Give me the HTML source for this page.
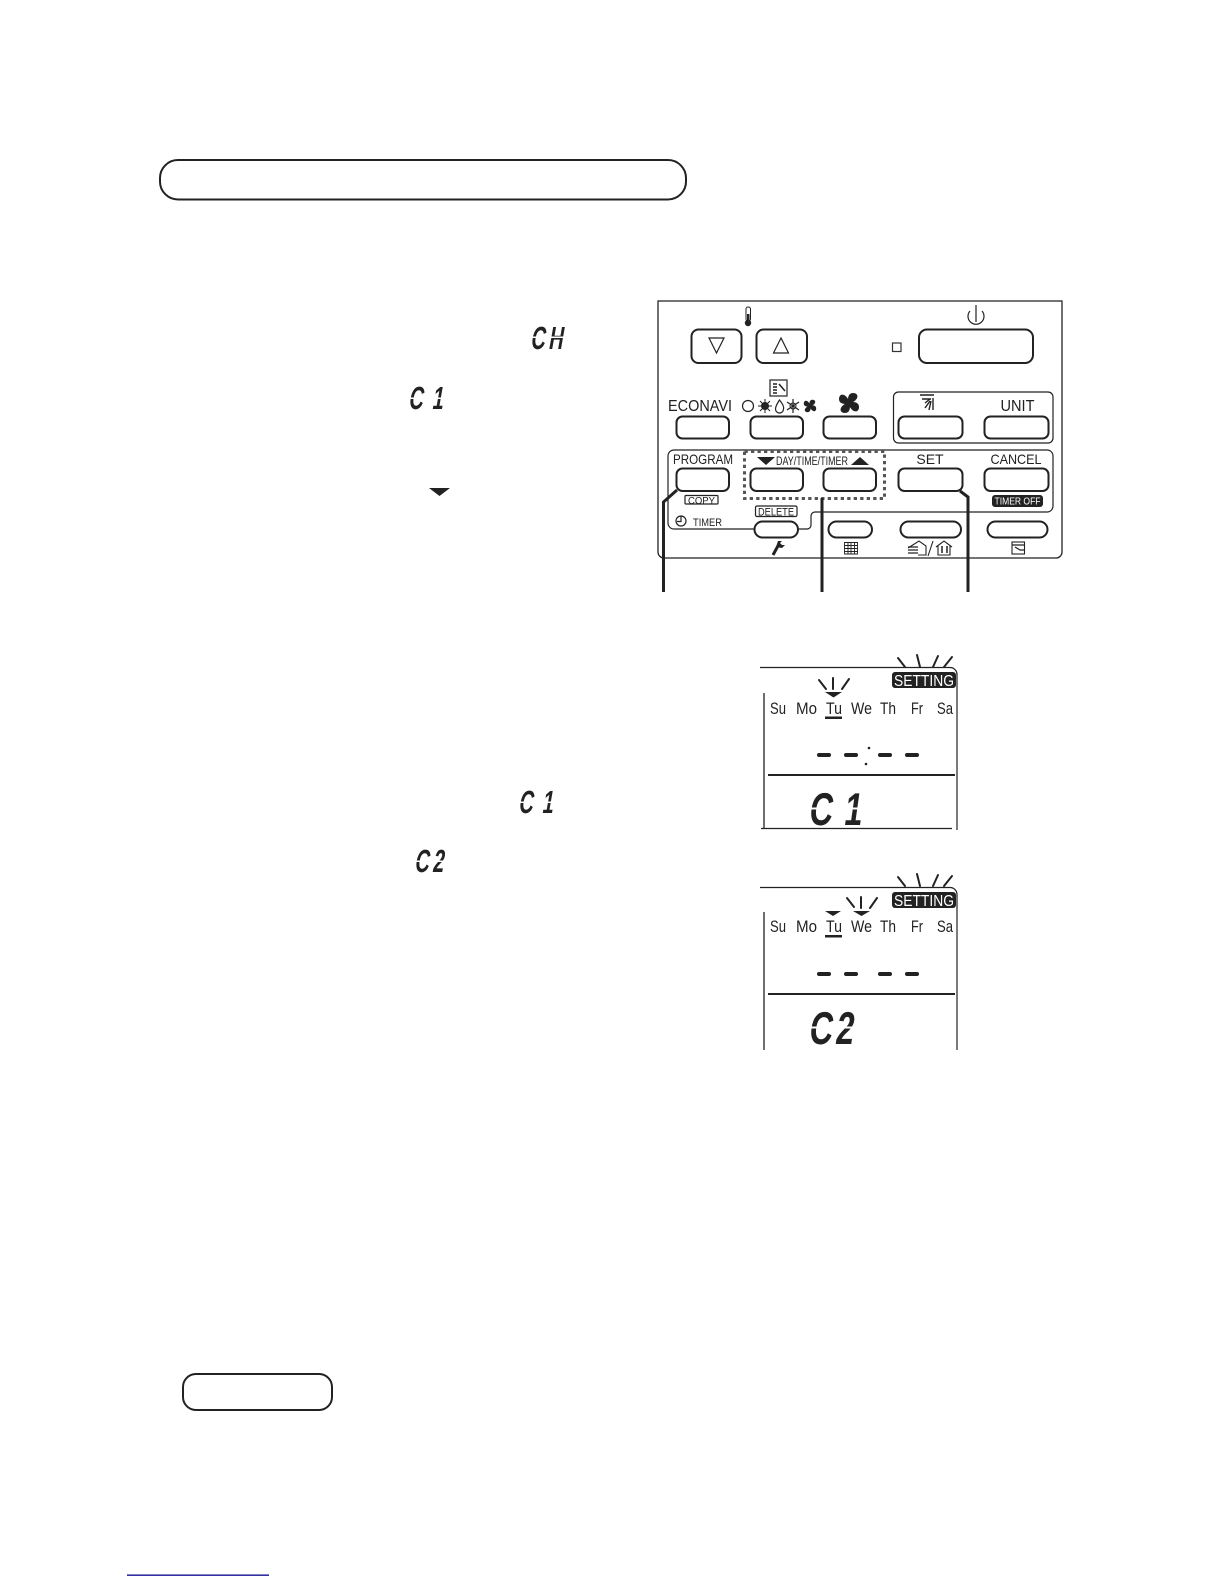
<!DOCTYPE html>
<html>
<head>
<meta charset="utf-8">
<style>
html,body{margin:0;padding:0;background:#fff}
svg{display:block}
text{font-family:"Liberation Sans",sans-serif;fill:#222}
.b{fill:none;stroke:#222;stroke-width:2}
.t{fill:none;stroke:#222;stroke-width:1.2}
.l{stroke:#222;stroke-width:3;fill:none}
.r{stroke:#222;stroke-width:2;fill:none;stroke-linecap:round}
.k{fill:#222;stroke:none}
.n{font-size:14px}
.d{font-size:17px}
.lcd{font-family:"Liberation Sans",sans-serif;fill:#222;font-weight:bold}
.cut{fill:#fff;stroke:none}
</style>
</head>
<body>
<svg width="1224" height="1584" viewBox="0 0 1224 1584" xmlns="http://www.w3.org/2000/svg">
<rect width="1224" height="1584" fill="#fff"/>

<!-- banners -->
<rect x="160" y="160" width="526" height="39.500" rx="18" class="b"/>
<rect x="183" y="1374" width="149" height="36" rx="13" class="b"/>

<!-- inline symbols in text column -->
<text class="lcd" font-size="32" transform="translate(530,349) skewX(-10) scale(.62,1)" x="0 29">CH</text>
<rect class="cut" x="528" y="336.500" width="40" height="1.500"/>
<text class="lcd" font-size="32" transform="translate(408,409) skewX(-10) scale(.62,1)" x="0 38">C1</text>
<rect class="cut" x="406" y="397.500" width="40" height="1.500"/>
<polygon class="k" points="429,488 450,488 439.500,496"/>
<text class="lcd" font-size="32" transform="translate(518,813) skewX(-10) scale(.62,1)" x="0 38">C1</text>
<rect class="cut" x="516" y="801.500" width="40" height="1.500"/>
<text class="lcd" font-size="32" transform="translate(414,872) skewX(-10) scale(.62,1)" x="0 29">C2</text>
<rect class="cut" x="412" y="860.500" width="40" height="1.500"/>

<!-- control panel -->
<path d="M658 301H1062V552a6 6 0 0 1-6 6H664a6 6 0 0 1-6-6Z" fill="none" stroke="#222" stroke-width="1.300"/>

<!-- thermometer -->
<rect x="746" y="307" width="4.500" height="14" rx="2" fill="none" stroke="#222" stroke-width="1"/>
<circle cx="748" cy="323" r="3.200" class="k"/>
<rect x="747" y="314" width="2.500" height="8" class="k"/>

<!-- row 1 buttons -->
<rect x="691.500" y="329.500" width="50" height="33.500" rx="7" class="b"/>
<rect x="756.500" y="329.500" width="50.500" height="33.500" rx="7" class="b"/>
<polygon points="709,338 724,338 716.500,353" fill="none" stroke="#222" stroke-width="1.200"/>
<polygon points="781,338 773.500,353 788.500,353" fill="none" stroke="#222" stroke-width="1.200"/>
<rect x="892.500" y="343" width="8.500" height="8.500" fill="none" stroke="#333" stroke-width="1.200"/>
<rect x="919" y="329.500" width="114" height="33.500" rx="8" class="b"/>
<path d="M970 311a8 8 0 1 0 12 0" class="t"/>
<path d="M976 305V322" class="t"/>

<!-- row 2 -->
<text x="668" y="411" font-size="15.500" textLength="64" lengthAdjust="spacingAndGlyphs">ECONAVI</text>
<rect x="770" y="380" width="17" height="16" fill="#fff" stroke="#222" stroke-width="1.200"/>
<path d="M773 384h4M773 387h4M773 390h4M773 393h4M779 384l6 7" stroke="#222" stroke-width="1.500" fill="none"/>
<circle cx="748" cy="406" r="5.500" class="t"/>
<circle cx="765" cy="406" r="4" class="k"/>
<path d="M758 406h14M765 399v14M760 401l10 10M770 401l-10 10" stroke="#222" stroke-width="1"/>
<path d="M779.500 400q5 6 4 9a4 4 0 0 1-8 0q0-3 4-9Z" class="t"/>
<path d="M793 399v14M787 402l12 8M799 402l-12 8" stroke="#222" stroke-width="1.200"/>
<circle cx="793" cy="406" r="3" fill="none" stroke="#222"/>
<!-- small fan -->
<g transform="translate(810,406) scale(.62)" fill="#222"><path d="M0 1C-2-4 -1-10 4-10C10-10 11-3 0 1Z"/><path transform="rotate(90)" d="M0 1C-2-4 -1-10 4-10C10-10 11-3 0 1Z"/><path transform="rotate(180)" d="M0 1C-2-4 -1-10 4-10C10-10 11-3 0 1Z"/><path transform="rotate(270)" d="M0 1C-2-4 -1-10 4-10C10-10 11-3 0 1Z"/></g>
<!-- big fan -->
<g transform="translate(849,403)" fill="#222"><path d="M0 1C-2-4 -1-10 4-10C10-10 11-3 0 1Z"/><path transform="rotate(90)" d="M0 1C-2-4 -1-10 4-10C10-10 11-3 0 1Z"/><path transform="rotate(180)" d="M0 1C-2-4 -1-10 4-10C10-10 11-3 0 1Z"/><path transform="rotate(270)" d="M0 1C-2-4 -1-10 4-10C10-10 11-3 0 1Z"/></g>
<!-- louver icon -->
<path d="M920 395h14M922 399h9M925 403l5-4M929 410l2-9M933 410v-12M925 408l5-7" stroke="#222" stroke-width="1.400" fill="none"/>

<rect x="893.500" y="392" width="159.500" height="51" rx="5" fill="none" stroke="#222" stroke-width="1.200"/>
<text x="1000.500" y="411" font-size="15.500" textLength="34" lengthAdjust="spacingAndGlyphs">UNIT</text>
<rect x="676.500" y="416.500" width="52.500" height="22" rx="6" class="b"/>
<rect x="750.500" y="416.500" width="52.500" height="22" rx="6" class="b"/>
<rect x="823.500" y="416.500" width="52.500" height="22" rx="6" class="b"/>
<rect x="898.500" y="416.500" width="64" height="22" rx="6" class="b"/>
<rect x="984.500" y="416.500" width="64" height="22" rx="6" class="b"/>

<!-- timer group -->
<path d="M674 450H1047a6 6 0 0 1 6 6V506a6 6 0 0 1-6 6H815a4 4 0 0 0-4 4V525a4 4 0 0 1-4 4H674a6 6 0 0 1-6-6V456a6 6 0 0 1 6-6Z" fill="none" stroke="#222" stroke-width="1.200"/>
<rect x="744.500" y="451.500" width="140" height="47" fill="none" stroke="#555" stroke-width="3" stroke-dasharray="3.300 3.200"/>

<text x="673" y="464" class="n" textLength="60" lengthAdjust="spacingAndGlyphs">PROGRAM</text>
<polygon class="k" points="757,457 775,457 766,465"/>
<text x="776" y="465" font-size="12" textLength="72" lengthAdjust="spacingAndGlyphs">DAY/TIME/TIMER</text>
<polygon class="k" points="851,465 869,465 860,457"/>
<text x="930" y="464" class="n" text-anchor="middle">SET</text>
<text x="1016" y="464" class="n" text-anchor="middle" textLength="51" lengthAdjust="spacingAndGlyphs">CANCEL</text>

<rect x="676.500" y="468.500" width="52.500" height="22.500" rx="6" class="b"/>
<rect x="750.500" y="468.500" width="52.500" height="22.500" rx="6" class="b"/>
<rect x="823.500" y="468.500" width="52.500" height="22.500" rx="6" class="b"/>
<rect x="898.500" y="468.500" width="64" height="22.500" rx="6" class="b"/>
<rect x="984.500" y="468.500" width="64" height="22.500" rx="6" class="b"/>

<rect x="685" y="495.500" width="33" height="8.500" rx="1" fill="#fff" stroke="#222" stroke-width="1.200"/>
<text x="701.500" y="504" font-size="10" text-anchor="middle" textLength="27" lengthAdjust="spacingAndGlyphs">COPY</text>
<rect x="992" y="495" width="51" height="12" rx="3" fill="#222"/>
<text x="1017.500" y="504.500" font-size="10" text-anchor="middle" style="fill:#fff" textLength="46" lengthAdjust="spacingAndGlyphs">TIMER OFF</text>
<rect x="755.500" y="506" width="41.500" height="10.500" rx="1.500" fill="#fff" stroke="#222" stroke-width="1.200"/>
<text x="776" y="515.500" font-size="11" text-anchor="middle" textLength="36" lengthAdjust="spacingAndGlyphs">DELETE</text>
<circle cx="681" cy="521" r="5" class="t"/>
<path d="M681 516.500V521.500H677" class="t"/>
<text x="693" y="526" font-size="11" textLength="29" lengthAdjust="spacingAndGlyphs">TIMER</text>

<!-- bottom row buttons -->
<rect x="754.500" y="521.500" width="43.500" height="16" rx="8" fill="#fff" stroke="#222" stroke-width="2"/>
<rect x="828.500" y="521.500" width="43.500" height="16" rx="8" class="b"/>
<rect x="900.500" y="521.500" width="60.500" height="16" rx="8" class="b"/>
<rect x="987.500" y="521.500" width="60" height="16" rx="8" class="b"/>

<!-- wrench -->
<path d="M773 555L779 544" stroke="#222" stroke-width="3"/>
<path d="M776 547l2-6h4l-2 2 2 2h3l-3 3Z" class="k"/>
<!-- grid -->
<path d="M844.500 542.500h13v11.500h-13ZM844.500 545.500h13M844.500 548.500h13M844.500 551.500h13M848 542.500v11.500M851 542.500v11.500M854.500 542.500v11.500" fill="none" stroke="#222" stroke-width=".9"/>
<!-- house icons -->
<path d="M908 548l11-7 7 5v9h-8" fill="none" stroke="#222" stroke-width="1.100"/>
<path d="M908 547h10M908 550h10M908 553h10" stroke="#222" stroke-width="1.300"/>
<path d="M928 556l5-15" stroke="#222" stroke-width="1.100"/>
<path d="M936 547l8-6 8 6M938 546v9h12v-9" fill="none" stroke="#222" stroke-width="1.100"/>
<path d="M942 546v7M947 546v7" stroke="#222" stroke-width="1.500"/>
<!-- window icon -->
<rect x="1012" y="542" width="12.500" height="12" fill="#fff" stroke="#222" stroke-width="1.100"/>
<path d="M1012 545h12.500M1015 547l5 3h4" fill="none" stroke="#222" stroke-width="1.200"/>

<!-- leaders -->
<path class="l" d="M677 490L663.500 502V592"/>
<path class="l" d="M822 498V592"/>
<path class="l" d="M960 491L968 497V592"/>

<!-- display 1 -->
<g>
<path d="M760 667.500H950a7 7 0 0 1 7 7V830" fill="none" stroke="#222" stroke-width="1.200"/>
<path d="M764 693V828M761 828.500H952" fill="none" stroke="#222" stroke-width="1.300"/>
<path d="M898 658l7 9M917 655l3 12M938 656l-5 11M952 657l-8 10" class="r"/>
<rect x="892" y="672" width="64" height="16" rx="3" fill="#222"/>
<text x="894" y="686" font-size="16" style="fill:#fff" textLength="60" lengthAdjust="spacingAndGlyphs">SETTING</text>
<path d="M819 680l7 9M833 678v11M849 679l-7 10" class="r"/>
<polygon class="k" points="825,692 842,692 833.500,697.500"/>
<text x="770" y="714" class="d" textLength="16" lengthAdjust="spacingAndGlyphs">Su</text>
<text x="796" y="714" class="d" textLength="21" lengthAdjust="spacingAndGlyphs">Mo</text>
<text x="826" y="714" class="d" textLength="16" lengthAdjust="spacingAndGlyphs">Tu</text>
<text x="851" y="714" class="d" textLength="21" lengthAdjust="spacingAndGlyphs">We</text>
<text x="880" y="714" class="d" textLength="16" lengthAdjust="spacingAndGlyphs">Th</text>
<text x="911" y="714" class="d" textLength="12" lengthAdjust="spacingAndGlyphs">Fr</text>
<text x="937" y="714" class="d" textLength="16" lengthAdjust="spacingAndGlyphs">Sa</text>
<rect x="825" y="716.500" width="17" height="2.500" class="k"/>
<g class="k"><rect x="817" y="753" width="14" height="4" rx="2"/><rect x="844" y="753" width="14" height="4" rx="2"/><rect x="878" y="753" width="14" height="4" rx="2"/><rect x="905" y="753" width="14" height="4" rx="2"/></g>
<circle cx="869" cy="748" r="1.300" class="k"/>
<circle cx="866" cy="764" r="1.300" class="k"/>
<rect x="768" y="774" width="187" height="2" class="k"/>
<text class="lcd" font-size="46" transform="translate(808,825) skewX(-8) scale(.7,1)" x="0 50">C1</text>
<rect class="cut" x="806" y="807.500" width="62" height="2"/>
</g>

<!-- display 2 -->
<g>
<path d="M760 887.500H950a7 7 0 0 1 7 7V1050" fill="none" stroke="#222" stroke-width="1.200"/>
<path d="M764 912V1050" fill="none" stroke="#222" stroke-width="1.300"/>
<path d="M898 877l7 9M917 874l3 12M938 875l-5 11M952 876l-8 10" class="r"/>
<rect x="892" y="892" width="64" height="16" rx="3" fill="#222"/>
<text x="894" y="906" font-size="16" style="fill:#fff" textLength="60" lengthAdjust="spacingAndGlyphs">SETTING</text>
<path d="M847 898l7 9M861 897v11M877 898l-7 10" class="r"/>
<polygon class="k" points="825,911 841,911 833,916"/>
<polygon class="k" points="853,911 870,911 861.500,916"/>
<text x="770" y="932" class="d" textLength="16" lengthAdjust="spacingAndGlyphs">Su</text>
<text x="796" y="932" class="d" textLength="21" lengthAdjust="spacingAndGlyphs">Mo</text>
<text x="826" y="932" class="d" textLength="16" lengthAdjust="spacingAndGlyphs">Tu</text>
<text x="851" y="932" class="d" textLength="21" lengthAdjust="spacingAndGlyphs">We</text>
<text x="880" y="932" class="d" textLength="16" lengthAdjust="spacingAndGlyphs">Th</text>
<text x="911" y="932" class="d" textLength="12" lengthAdjust="spacingAndGlyphs">Fr</text>
<text x="937" y="932" class="d" textLength="16" lengthAdjust="spacingAndGlyphs">Sa</text>
<rect x="825" y="935" width="17" height="2.500" class="k"/>
<g class="k"><rect x="817" y="972" width="14" height="4" rx="2"/><rect x="844" y="972" width="14" height="4" rx="2"/><rect x="878" y="972" width="14" height="4" rx="2"/><rect x="905" y="972" width="14" height="4" rx="2"/></g>
<rect x="768" y="993" width="187" height="2" class="k"/>
<text class="lcd" font-size="46" transform="translate(808,1044) skewX(-8) scale(.7,1)" x="0 38">C2</text>
<rect class="cut" x="806" y="1026.500" width="62" height="2"/>
</g>

<!-- bottom blue rule -->
<rect x="127" y="1574.500" width="142" height="1.300" fill="#00008b"/>
</svg>
</body>
</html>
